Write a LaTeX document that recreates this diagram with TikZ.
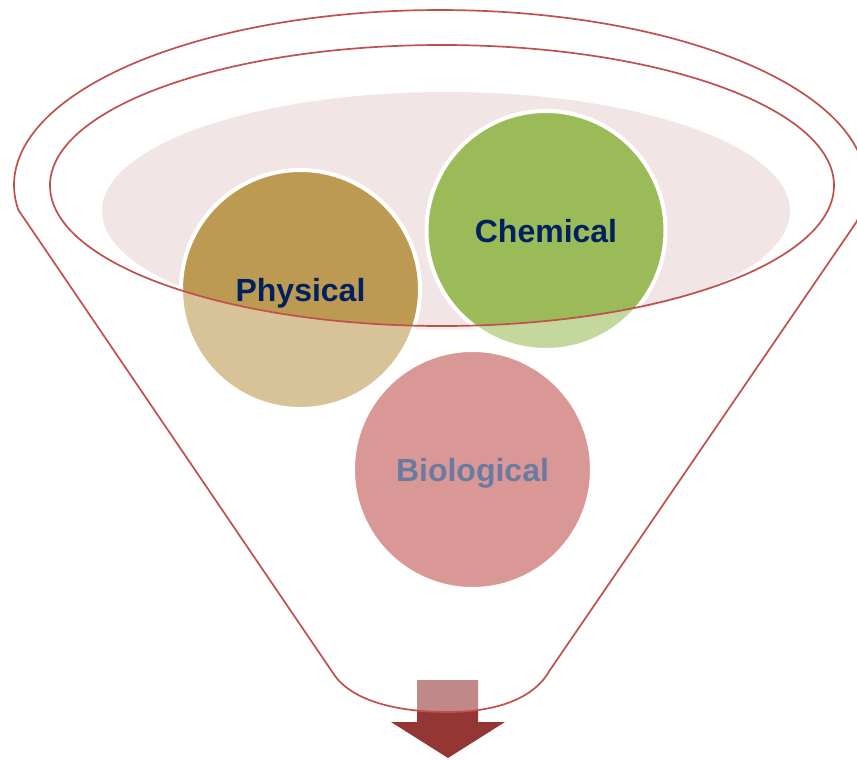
\documentclass[tikz,border=0pt]{standalone}
\usepackage{fontspec}
\setmainfont{Liberation Sans}
\definecolor{funnelred}{RGB}{192,80,77}
\definecolor{pinkfill}{RGB}{242,229,230}
\definecolor{tanfill}{RGB}{189,154,82}
\definecolor{leaffill}{RGB}{155,187,89}
\definecolor{rosefill}{RGB}{192,80,77}
\definecolor{navytext}{RGB}{0,32,96}
\definecolor{arrowred}{RGB}{148,54,52}
\begin{document}
\begin{tikzpicture}[x=1pt,y=-1pt,
  bubble/.style={circle, draw=white, line width=4pt, minimum size=239pt, inner sep=0pt,
    font=\bfseries\fontsize{32}{38}\selectfont, text=navytext, text height=23pt, text depth=0pt},
  rim/.style={draw=funnelred, line width=1.7pt, line join=round}]
\useasboundingbox (0,0) rectangle (857,760);
\clip (0,0) rectangle (857,760);
% pale disc inside the mouth
\fill[pinkfill] (446,211) ellipse [x radius=344pt, y radius=119pt];
% bubbles
\node[bubble, fill=tanfill] (physical) at (300.5,289.5) {Physical};
\node[bubble, fill=leaffill] (chemical) at (546,230.5) {Chemical};
\node[bubble, fill=rosefill] (biological) at (472.5,469.5) {Biological};
% output arrow
\fill[arrowred] (417,680) -- (478,680) -- (478,722) -- (505,722) -- (448,758)
  -- (391,722) -- (417,722) -- cycle;
% translucent funnel body (mouth left clear)
\fill[white, fill opacity=0.41, even odd rule]
  plot[domain=171.8:372.5, samples=150, variable=\t] ({440+426*cos(\t)},{185+175*sin(\t)})
  -- (550,670) .. controls (535,697) and (500,712) .. (447,712)
  .. controls (395,712) and (350,700) .. (333,673) -- cycle
  (442,185.5) ellipse [x radius=392pt, y radius=140.5pt];
% funnel outline
\draw[rim]
  plot[domain=171.8:372.5, samples=150, variable=\t] ({440+426*cos(\t)},{185+175*sin(\t)})
  -- (550,670) .. controls (535,697) and (500,712) .. (447,712)
  .. controls (395,712) and (350,700) .. (333,673) -- cycle;
\draw[rim] (442,185.5) ellipse [x radius=392pt, y radius=140.5pt];
\end{tikzpicture}
\end{document}
